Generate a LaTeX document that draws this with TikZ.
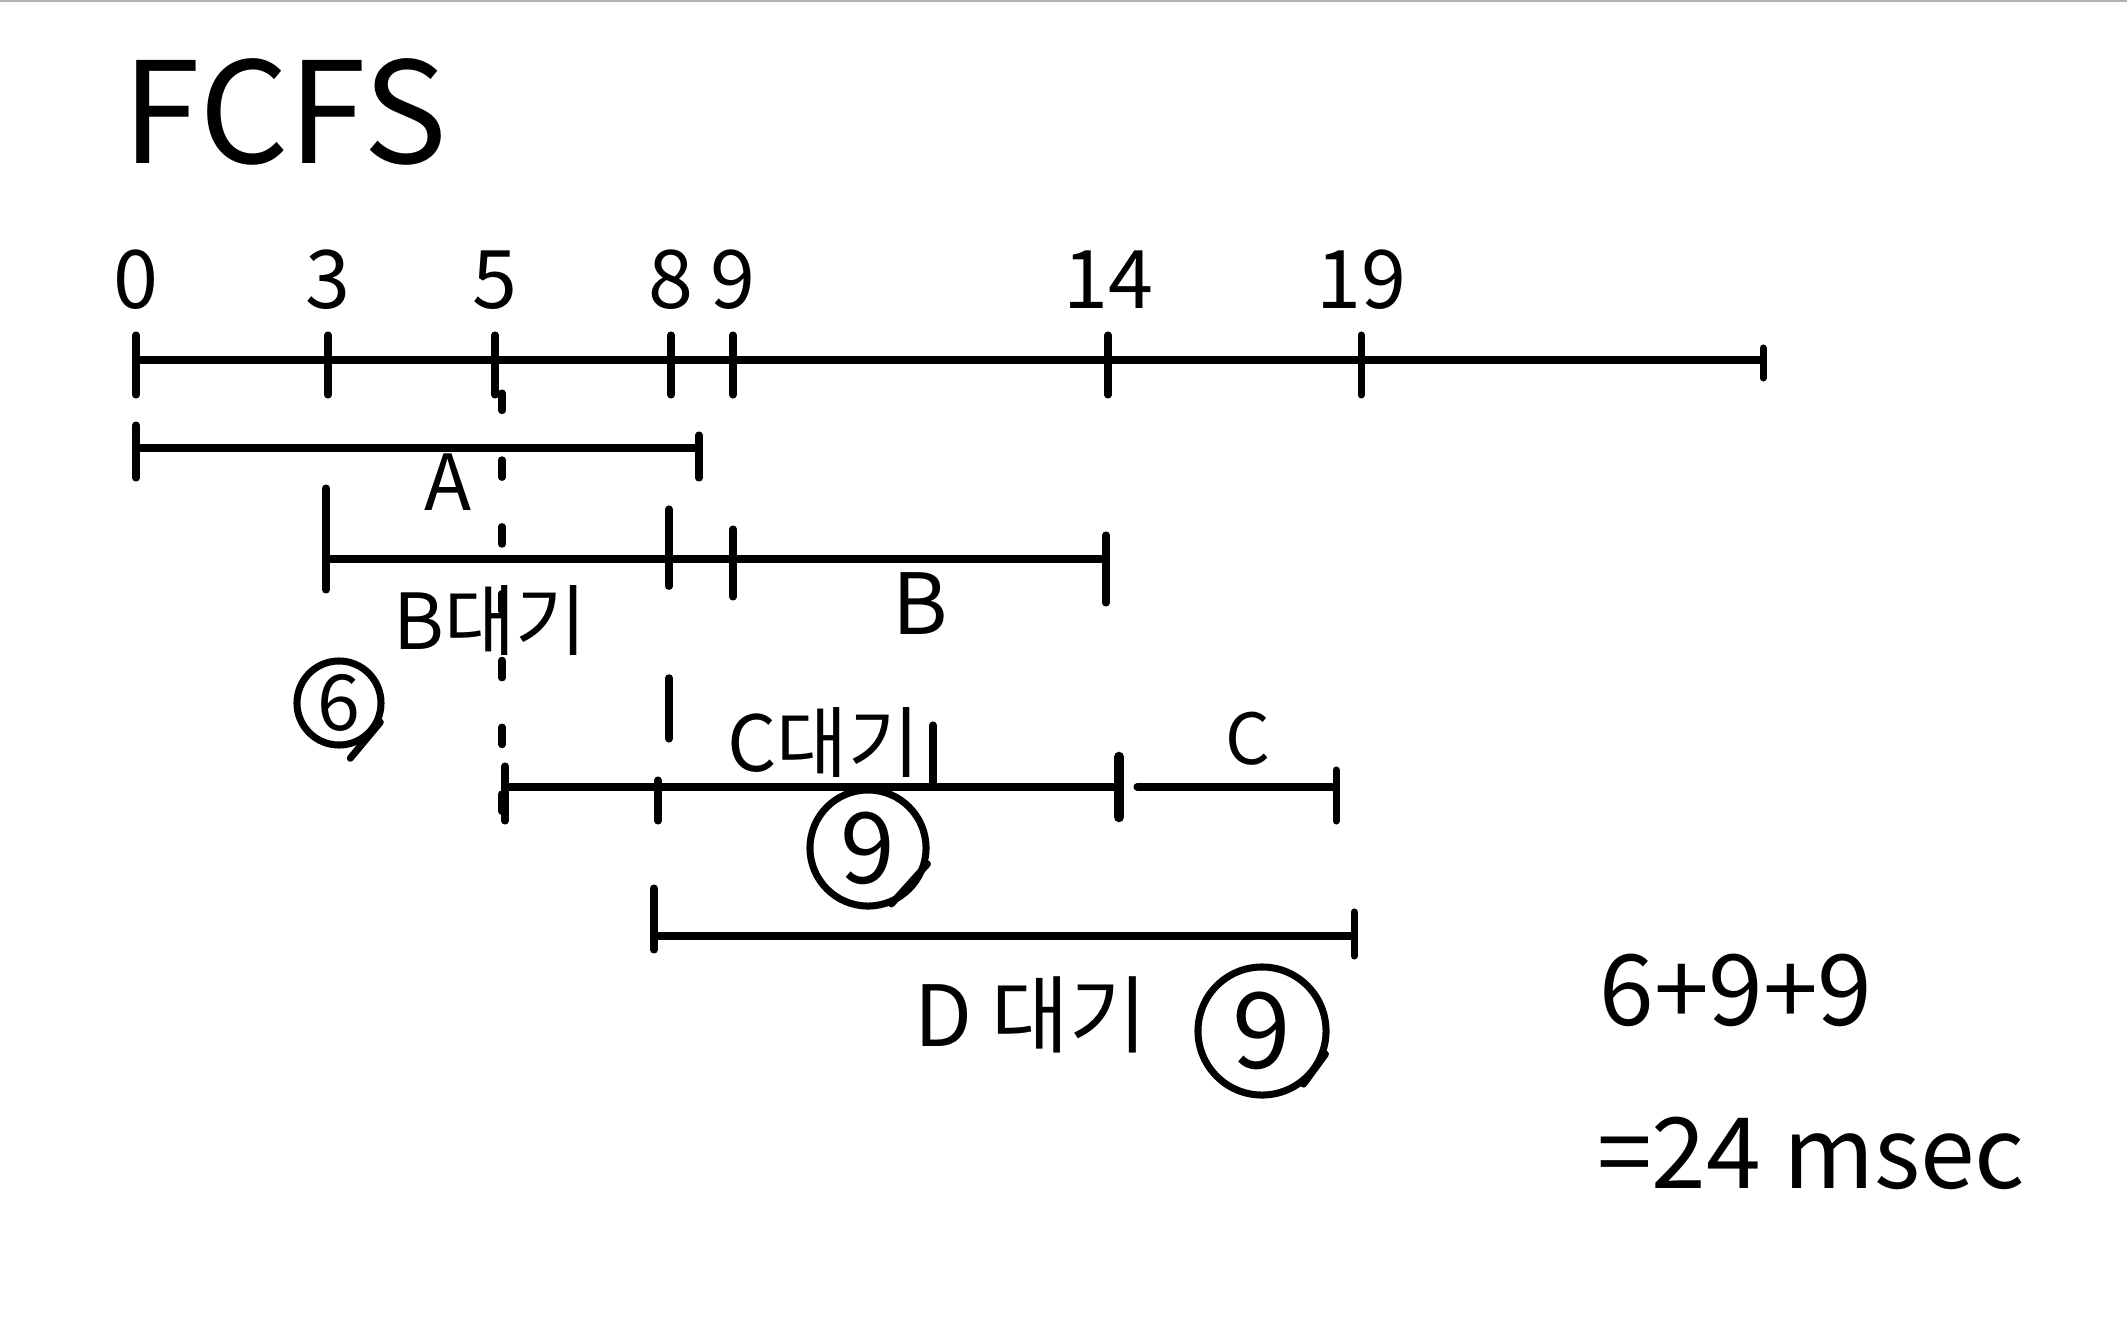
\documentclass[tikz,border=0pt]{standalone}
\usepackage{fontspec}
\setmainfont{Noto Sans CJK KR}
\usetikzlibrary{positioning, calc}

\tikzset{
  pen/.style={line width=2pt, line cap=round, line join=round},
  timelabel/.style={font=\fontsize{23}{25}\selectfont, inner sep=0pt},
  waitlabel/.style={font=\fontsize{22}{24}\selectfont, inner sep=0pt},
  waitcount/.style={circle, draw, line width=2pt, inner sep=0pt}
}

\begin{document}
\begin{tikzpicture}[x=0.01cm, y=-0.01cm]
  \useasboundingbox (0,0) rectangle (2127,1330);
  \draw[gray!60, line width=0.6pt] (0,1) -- (2127,1);

  % Title
  \node[font=\fontsize{40}{42}\selectfont, inner sep=0pt] (title) at (285,112) {FCFS};

  % Time axis
  \coordinate (t0) at (136,360);
  \coordinate (tend) at (1763,360);
  \draw[pen] (t0) -- (tend);
  \foreach \x/\t in {136/0, 328/3, 495/5, 671/8, 733/9, 1108/14, 1361/19} {
    \draw[pen] (\x,335) -- (\x,395);
    \node[timelabel] (lbl\t) at (\x,280) {\t};
  }
  \draw[pen] (tend) ++(0,-12) -- ++(0,30);

  % Guide lines
  \draw[pen, dash pattern=on 5pt off 14pt] (502,393) -- (502,814);
  \draw[pen, dash pattern=on 22pt off 26pt] (669,509) -- (669,739);

  % A
  \coordinate (a0) at (136,448);
  \coordinate (a1) at (699,448);
  \draw[pen] (a0) -- (a1);
  \draw[pen] (136,425) -- (136,478);
  \draw[pen] (699,435) -- (699,478);
  \node[waitlabel] (lblA) at (448,482) {A};

  % B
  \coordinate (b0) at (326,559);
  \coordinate (b1) at (1106,559);
  \draw[pen] (b0) -- (b1);
  \draw[pen] (326,488) -- (326,590);
  \draw[pen] (733,529) -- (733,597);
  \draw[pen] (1106,535) -- (1106,603);
  \node[waitlabel] (waitB) at (490,621) {B대기};
  \node[waitlabel, font=\fontsize{24}{26}\selectfont] (lblB) at (920,604) {B};
  \node[waitcount, minimum size=84pt*0.2845, font=\fontsize{22}{24}\selectfont] (sixB) at (339,703) {6};
  \draw[pen] (sixB.-25) -- ++(-30,36);

  % C
  \coordinate (c0) at (505,787);
  \coordinate (c1) at (1119,787);
  \coordinate (c2) at (1137,787);
  \coordinate (c3) at (1336,787);
  \draw[pen] (c0) -- (c1);
  \draw[pen] (c2) -- (c3);
  \draw[pen] (505,766) -- (505,821);
  \draw[pen] (658,780) -- (658,821);
  \draw[pen] (933,725) -- (933,787);
  \draw[line width=3pt, line cap=round] (1119,757) -- (1119,817);
  \draw[pen] (1336,770) -- (1336,821);
  \node[waitlabel, anchor=east] (waitC) at (920,743) {C대기};
  \node[waitlabel, font=\fontsize{20}{22}\selectfont] (lblC) at (1248,739) {C};
  \node[waitcount, minimum size=116pt*0.2845, font=\fontsize{28}{30}\selectfont] (nineC) at (868,848) {9};
  \draw[pen] (nineC.-15) -- ++(-36,40);

  % D
  \coordinate (d0) at (654,936);
  \coordinate (d1) at (1354,936);
  \draw[pen] (d0) -- (d1);
  \draw[pen] (654,888) -- (654,950);
  \draw[pen] (1354,912) -- (1354,956);
  \node[waitlabel, font=\fontsize{24}{26}\selectfont] (waitD) at (1031,1015) {D 대기};
  \node[waitcount, minimum size=128pt*0.2845, font=\fontsize{30}{32}\selectfont] (nineD) at (1262,1031) {9};
  \draw[pen] (nineD.-20) -- ++(-22,30);

  % Total
  \node[font=\fontsize{28}{30}\selectfont, inner sep=0pt] (sum) at (1736,990) {6+9+9};
  \node[font=\fontsize{28}{30}\selectfont, inner sep=0pt] (total) at (1811,1153) {=24 msec};
\end{tikzpicture}
\end{document}
